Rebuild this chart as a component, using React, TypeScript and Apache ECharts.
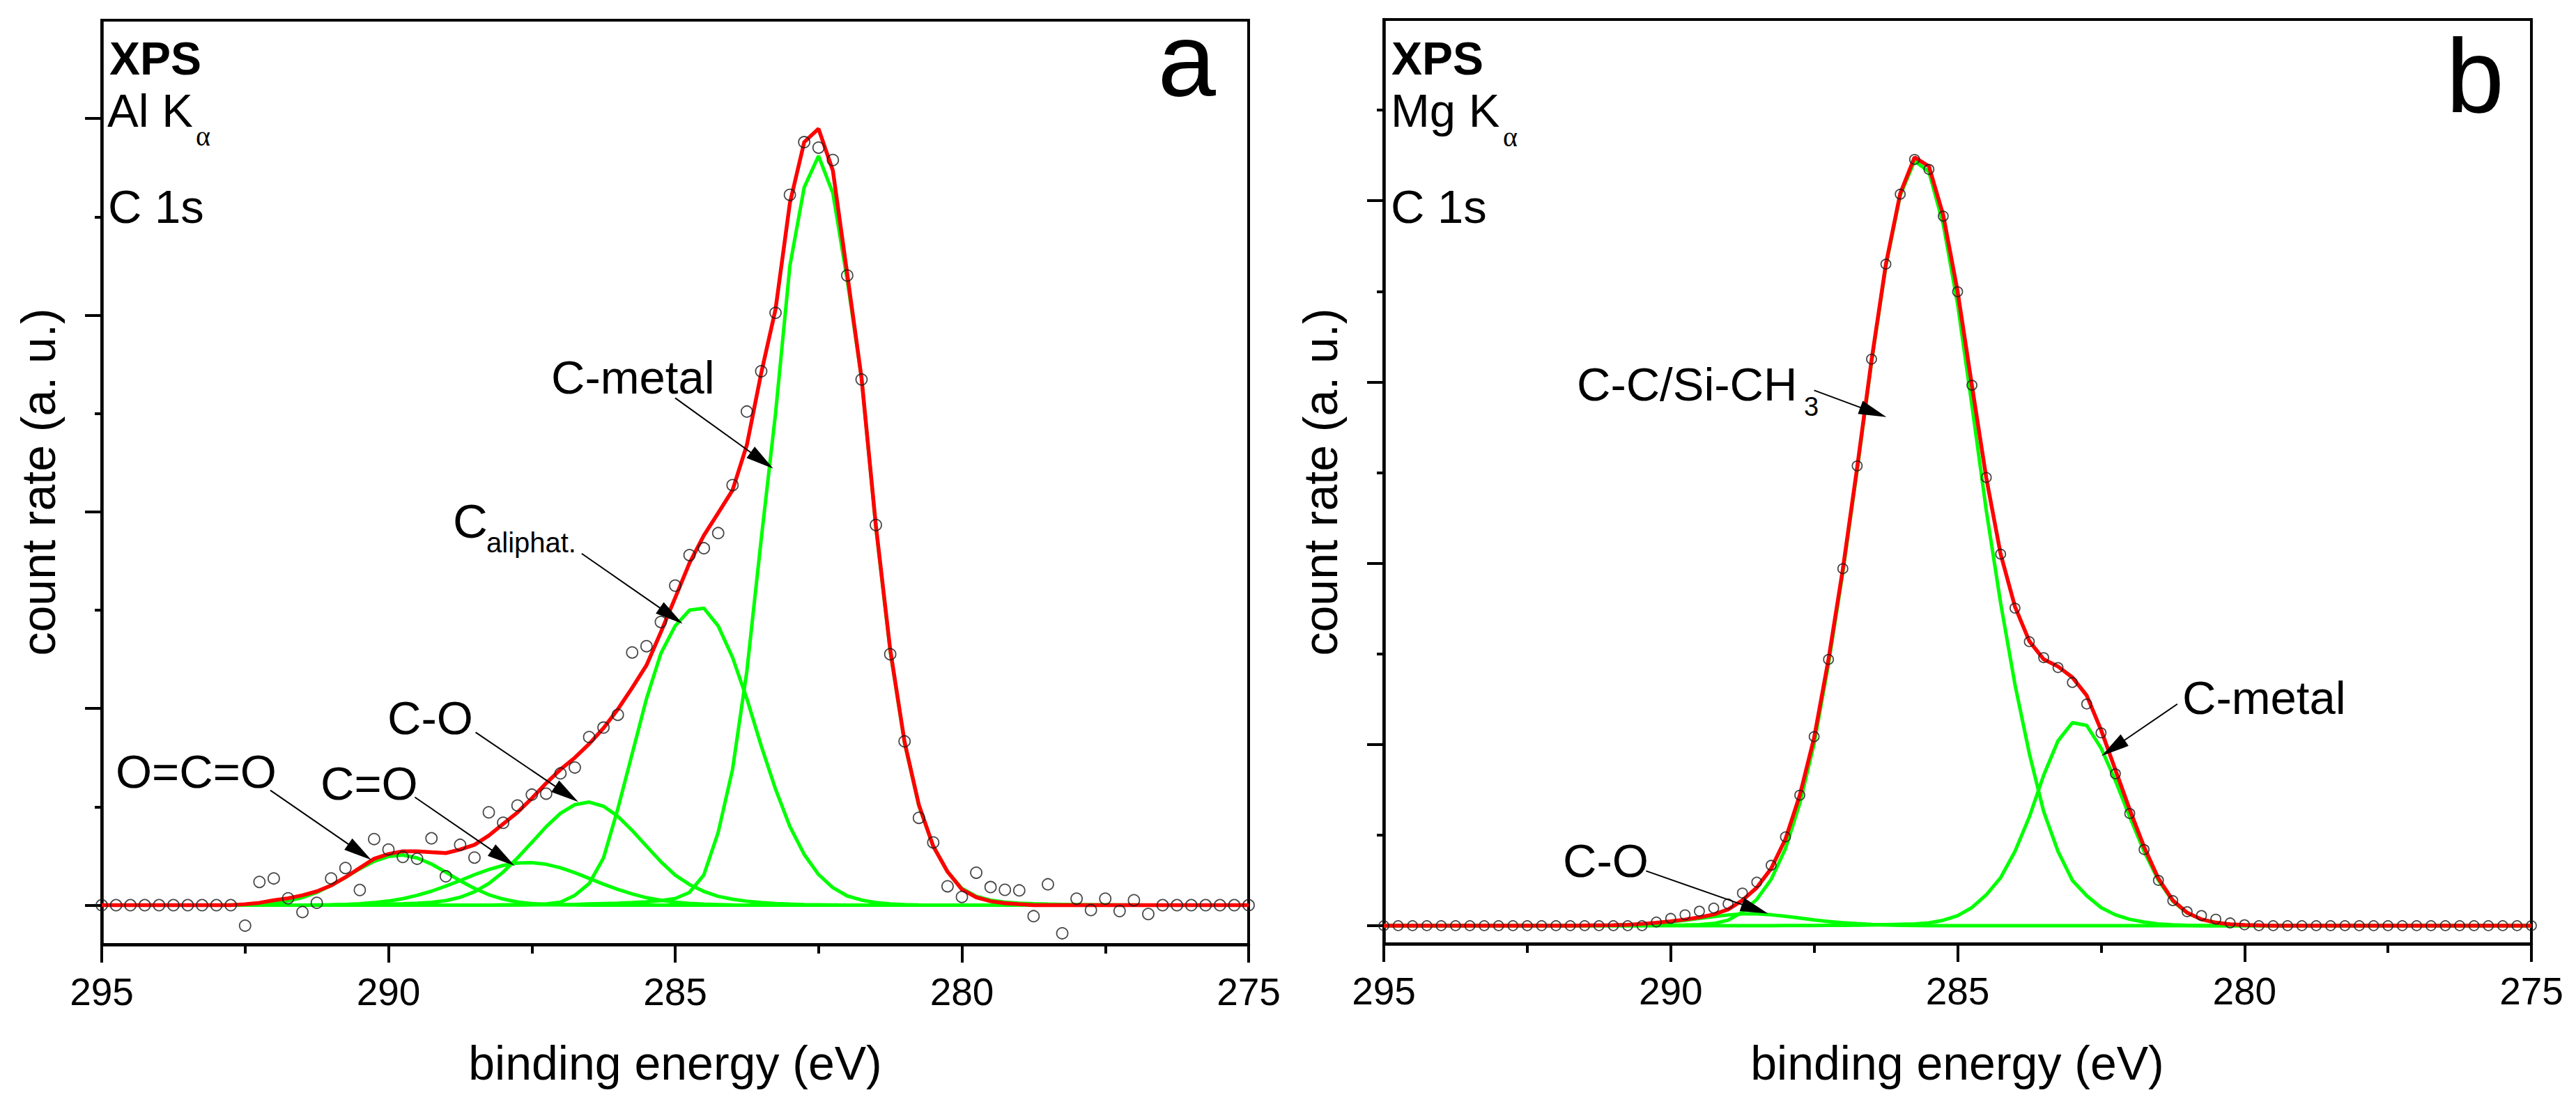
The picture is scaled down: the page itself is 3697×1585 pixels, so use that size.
import React, { useEffect, useRef } from 'react';
import * as echarts from 'echarts';

// binding energy grid (eV), same sampling for both panels
const energy = [
  295, 294.75, 294.5, 294.25, 294, 293.75, 293.5, 293.25, 293, 292.75,
  292.5, 292.25, 292, 291.75, 291.5, 291.25, 291, 290.75, 290.5, 290.25,
  290, 289.75, 289.5, 289.25, 289, 288.75, 288.5, 288.25, 288, 287.75,
  287.5, 287.25, 287, 286.75, 286.5, 286.25, 286, 285.75, 285.5, 285.25,
  285, 284.75, 284.5, 284.25, 284, 283.75, 283.5, 283.25, 283, 282.75,
  282.5, 282.25, 282, 281.75, 281.5, 281.25, 281, 280.75, 280.5, 280.25,
  280, 279.75, 279.5, 279.25, 279, 278.75, 278.5, 278.25, 278, 277.75,
  277.5, 277.25, 277, 276.75, 276.5, 276.25, 276, 275.75, 275.5, 275.25,
  275,
];

// ---- panel a : Al Ka ----
const measuredA = [
  0, 0, 0, 0, 0, 0, 0, 0, 0, 0,
  -0.104, 0.118, 0.136, 0.035, -0.035, 0.012, 0.136, 0.189, 0.077, 0.336,
  0.283, 0.245, 0.236, 0.34, 0.147, 0.307, 0.242, 0.472, 0.419, 0.507,
  0.562, 0.567, 0.67, 0.7, 0.855, 0.903, 0.968, 1.285, 1.317, 1.44,
  1.625, 1.78, 1.815, 1.892, 2.136, 2.51, 2.715, 3.012, 3.612, 3.88,
  3.852, 3.789, 3.202, 2.673, 1.933, 1.276, 0.833, 0.444, 0.319, 0.096,
  0.042, 0.165, 0.092, 0.078, 0.075, -0.056, 0.106, -0.143, 0.033, -0.025,
  0.033, -0.03, 0.025, -0.045, 0, 0, 0, 0, 0, 0,
  0,
];
const envelopeA = [
  0, 0, 0, 0, 0, 0, 0, 0, 0, 0,
  0.005, 0.012, 0.025, 0.035, 0.05, 0.07, 0.1, 0.142, 0.189, 0.236,
  0.26, 0.274, 0.274, 0.269, 0.265, 0.283, 0.307, 0.354, 0.413, 0.472,
  0.543, 0.62, 0.69, 0.75, 0.82, 0.9, 0.996, 1.105, 1.22, 1.388,
  1.563, 1.74, 1.88, 1.994, 2.11, 2.34, 2.705, 3.03, 3.57, 3.88,
  3.948, 3.735, 3.21, 2.68, 1.93, 1.3, 0.83, 0.51, 0.3, 0.17,
  0.08, 0.04, 0.02, 0.01, 0.005, 0, 0, 0, 0, 0,
  0, 0, 0, 0, 0, 0, 0, 0, 0, 0,
  0,
];
const ocoA = [
  0, 0, 0, 0, 0, 0, 0, 0, 0, 0.001,
  0.002, 0.005, 0.011, 0.021, 0.039, 0.065, 0.1, 0.141, 0.185, 0.223,
  0.248, 0.255, 0.24, 0.209, 0.168, 0.124, 0.085, 0.053, 0.031, 0.016,
  0.008, 0.004, 0.002, 0.001, 0, 0, 0, 0, 0, 0,
  0, 0, 0, 0, 0, 0, 0, 0, 0, 0,
  0, 0, 0, 0, 0, 0, 0, 0, 0, 0,
  0, 0, 0, 0, 0, 0, 0, 0, 0, 0,
  0, 0, 0, 0, 0, 0, 0, 0, 0, 0,
  0,
];
const cDoubleOA = [
  0, 0, 0, 0, 0, 0, 0, 0, 0, 0,
  0, 0, 0, 0, 0, 0.001, 0.002, 0.004, 0.007, 0.013,
  0.021, 0.033, 0.05, 0.071, 0.097, 0.125, 0.155, 0.181, 0.202, 0.214,
  0.216, 0.208, 0.19, 0.165, 0.136, 0.107, 0.08, 0.057, 0.038, 0.025,
  0.015, 0.009, 0.005, 0.003, 0.001, 0, 0, 0, 0, 0,
  0, 0, 0, 0, 0, 0, 0, 0, 0, 0,
  0, 0, 0, 0, 0, 0, 0, 0, 0, 0,
  0, 0, 0, 0, 0, 0, 0, 0, 0, 0,
  0,
];
const cSingleOA = [
  0, 0, 0, 0, 0, 0, 0, 0, 0, 0,
  0, 0, 0, 0, 0, 0, 0.001, 0.002, 0.003, 0.004,
  0.005, 0.007, 0.01, 0.014, 0.023, 0.04, 0.068, 0.11, 0.168, 0.24,
  0.319, 0.399, 0.467, 0.511, 0.524, 0.503, 0.452, 0.38, 0.3, 0.221,
  0.153, 0.105, 0.07, 0.045, 0.03, 0.02, 0.013, 0.008, 0.005, 0.003,
  0.002, 0.001, 0, 0, 0, 0, 0, 0, 0, 0,
  0, 0, 0, 0, 0, 0, 0, 0, 0, 0,
  0, 0, 0, 0, 0, 0, 0, 0, 0, 0,
  0,
];
const cAliphatA = [
  0, 0, 0, 0, 0, 0, 0, 0, 0, 0,
  0, 0, 0, 0, 0, 0, 0, 0, 0, 0,
  0, 0, 0, 0, 0, 0, 0, 0, 0.001, 0.002,
  0.003, 0.006, 0.015, 0.05, 0.11, 0.24, 0.49, 0.77, 1.05, 1.28,
  1.42, 1.5, 1.51, 1.42, 1.26, 1.05, 0.81, 0.59, 0.4, 0.258,
  0.156, 0.089, 0.047, 0.026, 0.013, 0.006, 0.003, 0.001, 0, 0,
  0, 0, 0, 0, 0, 0, 0, 0, 0, 0,
  0, 0, 0, 0, 0, 0, 0, 0, 0, 0,
  0,
];
const cMetalA = [
  0, 0, 0, 0, 0, 0, 0, 0, 0, 0,
  0, 0, 0, 0, 0, 0, 0, 0, 0, 0,
  0, 0, 0, 0, 0, 0, 0, 0, 0.001, 0.001,
  0.002, 0.002, 0.003, 0.004, 0.006, 0.008, 0.01, 0.013, 0.017, 0.023,
  0.034, 0.065, 0.154, 0.37, 0.69, 1.19, 1.86, 2.5, 3.25, 3.65,
  3.81, 3.62, 3.18, 2.68, 1.92, 1.29, 0.825, 0.505, 0.3, 0.17,
  0.085, 0.045, 0.025, 0.015, 0.01, 0.007, 0.005, 0.004, 0.003, 0.002,
  0.002, 0.001, 0.001, 0, 0, 0, 0, 0, 0, 0,
  0,
];

// ---- panel b : Mg Ka ----
const measuredB = [
  0, 0, 0, 0, 0, 0, 0, 0, 0, 0,
  0, 0, 0, 0, 0, 0, 0, 0, 0, 0.02,
  0.04, 0.06, 0.08, 0.097, 0.12, 0.18, 0.24, 0.333, 0.49, 0.72,
  1.043, 1.469, 1.97, 2.537, 3.126, 3.65, 4.036, 4.228, 4.173, 3.915,
  3.498, 2.982, 2.473, 2.05, 1.752, 1.567, 1.479, 1.424, 1.342, 1.223,
  1.064, 0.838, 0.619, 0.42, 0.25, 0.138, 0.077, 0.056, 0.036, 0.015,
  0.005, 0, 0, 0, 0, 0, 0, 0, 0, 0,
  0, 0, 0, 0, 0, 0, 0, 0, 0, 0,
  0,
];
const envelopeB = [
  0, 0, 0, 0, 0, 0, 0, 0, 0, 0,
  0, 0, 0, 0, 0.001, 0.002, 0.003, 0.005, 0.01, 0.016,
  0.024, 0.034, 0.046, 0.062, 0.09, 0.14, 0.21, 0.315, 0.478, 0.72,
  1.038, 1.47, 1.968, 2.53, 3.12, 3.65, 4.04, 4.24, 4.19, 3.92,
  3.5, 2.98, 2.47, 2.05, 1.76, 1.57, 1.47, 1.43, 1.37, 1.27,
  1.08, 0.86, 0.64, 0.435, 0.26, 0.14, 0.072, 0.035, 0.017, 0.008,
  0.004, 0.002, 0, 0, 0, 0, 0, 0, 0, 0,
  0, 0, 0, 0, 0, 0, 0, 0, 0, 0,
  0,
];
const cSingleOB = [
  0, 0, 0, 0, 0, 0, 0, 0, 0, 0,
  0, 0, 0, 0, 0.001, 0.002, 0.003, 0.005, 0.009, 0.014,
  0.021, 0.03, 0.04, 0.05, 0.059, 0.065, 0.065, 0.06, 0.052, 0.042,
  0.032, 0.023, 0.016, 0.011, 0.007, 0.004, 0.002, 0.001, 0, 0,
  0, 0, 0, 0, 0, 0, 0, 0, 0, 0,
  0, 0, 0, 0, 0, 0, 0, 0, 0, 0,
  0, 0, 0, 0, 0, 0, 0, 0, 0, 0,
  0, 0, 0, 0, 0, 0, 0, 0, 0, 0,
  0,
];
const cCSiB = [
  0, 0, 0, 0, 0, 0, 0, 0, 0, 0,
  0, 0, 0, 0, 0, 0, 0, 0, 0.001, 0.002,
  0.003, 0.004, 0.006, 0.012, 0.03, 0.075, 0.145, 0.255, 0.425, 0.675,
  1.005, 1.445, 1.95, 2.515, 3.11, 3.64, 4.03, 4.22, 4.16, 3.87,
  3.43, 2.87, 2.29, 1.78, 1.33, 0.95, 0.63, 0.41, 0.25, 0.165,
  0.1, 0.06, 0.035, 0.02, 0.01, 0.005, 0.002, 0, 0, 0,
  0, 0, 0, 0, 0, 0, 0, 0, 0, 0,
  0, 0, 0, 0, 0, 0, 0, 0, 0, 0,
  0,
];
const cMetalB = [
  0, 0, 0, 0, 0, 0, 0, 0, 0, 0,
  0, 0, 0, 0, 0, 0, 0, 0, 0, 0,
  0, 0, 0, 0, 0, 0, 0, 0, 0.001, 0.001,
  0.001, 0.002, 0.002, 0.003, 0.004, 0.006, 0.008, 0.01, 0.015, 0.03,
  0.055, 0.1, 0.17, 0.265, 0.41, 0.6, 0.83, 1.02, 1.12, 1.105,
  0.98, 0.8, 0.6, 0.41, 0.25, 0.135, 0.07, 0.035, 0.017, 0.008,
  0.004, 0.002, 0, 0, 0, 0, 0, 0, 0, 0,
  0, 0, 0, 0, 0, 0, 0, 0, 0, 0,
  0,
];

const xTickLabels = [295, 290, 285, 280, 275];
const yMajorTicks = [0, 1, 2, 3, 4];
const yMinorTicksA = [0.5, 1.5, 2.5, 3.5];
const yMinorTicksB = [0.5, 1.5, 2.5, 3.5, 4.5];

// annotation arrows in data units: [fromE, fromY, toE, toY]
const arrowsA = [
  [292.06, 0.584, 290.3, 0.23],
  [289.54, 0.549, 287.8, 0.2],
  [288.48, 0.879, 286.69, 0.525],
  [286.63, 1.788, 284.87, 1.431],
  [285.0, 2.579, 283.29, 2.22],
];
const arrowsB = [
  [287.5, 2.954, 286.24, 2.806],
  [290.43, 0.302, 288.3, 0.066],
  [281.17, 1.223, 282.49, 0.937],
];

const FONT = '"Liberation Sans", Arial, sans-serif';
const SERIF = '"Liberation Serif", "Times New Roman", serif';

const pairs = (vals: number[]) => energy.map((e, i) => [e, vals[i]]);

function xAxisFor(gridIndex: number) {
  return {
    type: 'value',
    gridIndex,
    position: 'bottom',
    min: 275,
    max: 295,
    interval: 5,
    inverse: true,
    axisLine: { show: true, onZero: false, lineStyle: { color: '#000', width: 4.5 } },
    axisTick: { show: true, length: 26, lineStyle: { color: '#000', width: 4 } },
    minorTick: { show: true, splitNumber: 2, length: 13, lineStyle: { color: '#000', width: 4 } },
    axisLabel: {
      show: true,
      color: '#000',
      fontSize: 55,
      fontFamily: FONT,
      margin: 40,
      formatter: (v: number) => (xTickLabels.includes(v) ? String(v) : ''),
    },
    splitLine: { show: false },
  };
}

function yAxisFor(gridIndex: number, min: number, max: number, ticks: number[], len: number, line: boolean) {
  return {
    type: 'value',
    gridIndex,
    position: 'left',
    offset: 0,
    min,
    max,
    axisLine: { show: line, onZero: false, lineStyle: { color: '#000', width: 4.5 } },
    axisTick: { show: true, length: len, customValues: ticks, lineStyle: { color: '#000', width: 4 } },
    axisLabel: { show: false },
    splitLine: { show: false },
  };
}

function peak(xi: number, yi: number, vals: number[]) {
  return {
    type: 'line',
    xAxisIndex: xi,
    yAxisIndex: yi,
    data: pairs(vals),
    showSymbol: false,
    symbol: 'none',
    silent: true,
    z: 2,
    lineStyle: { color: '#00ff00', width: 5 },
  };
}

function envelope(xi: number, yi: number, vals: number[]) {
  return {
    type: 'line',
    xAxisIndex: xi,
    yAxisIndex: yi,
    data: pairs(vals),
    showSymbol: false,
    symbol: 'none',
    silent: true,
    z: 3,
    lineStyle: { color: '#ff0000', width: 5.5 },
  };
}

function measured(xi: number, yi: number, vals: number[], size: number) {
  return {
    type: 'scatter',
    xAxisIndex: xi,
    yAxisIndex: yi,
    data: pairs(vals),
    symbol: 'circle',
    symbolSize: size,
    silent: true,
    z: 4,
    itemStyle: { color: 'rgba(255,255,255,0)', borderColor: '#1a1a1a', borderWidth: 1.8 },
  };
}

type Lbl = { text: string; x: number; y: number; size: number; bold?: boolean; serif?: boolean; align?: string; rotation?: number };

// text placement in page pixels (y is the vertical middle of the line)
const labels: Lbl[] = [
  { text: 'XPS', x: 157, y: 84, size: 66, bold: true },
  { text: 'Al K', x: 154, y: 158, size: 67 },
  { text: 'α', x: 281, y: 195, size: 40, serif: true },
  { text: 'C 1s', x: 155, y: 296, size: 67 },
  { text: 'a', x: 1745, y: 86, size: 150, align: 'right' },
  { text: 'O=C=O', x: 166, y: 1107, size: 67 },
  { text: 'C=O', x: 460, y: 1124, size: 67 },
  { text: 'C-O', x: 556, y: 1030, size: 67 },
  { text: 'C', x: 650, y: 748, size: 69 },
  { text: 'aliphat.', x: 698, y: 779, size: 40 },
  { text: 'C-metal', x: 791, y: 541, size: 67 },
  { text: 'count rate (a. u.)', x: 55, y: 692, size: 68, align: 'center', rotation: Math.PI / 2 },
  { text: 'binding energy (eV)', x: 969, y: 1526, size: 68, align: 'center' },

  { text: 'XPS', x: 1997, y: 84, size: 66, bold: true },
  { text: 'Mg K', x: 1996, y: 158, size: 67 },
  { text: 'α', x: 2157, y: 196, size: 40, serif: true },
  { text: 'C 1s', x: 1996, y: 296, size: 67 },
  { text: 'b', x: 3594, y: 109, size: 150, align: 'right' },
  { text: 'C-C/Si-CH', x: 2263, y: 551, size: 67 },
  { text: '3', x: 2589, y: 584, size: 38 },
  { text: 'C-O', x: 2243, y: 1235, size: 67 },
  { text: 'C-metal', x: 3132, y: 1001, size: 67 },
  { text: 'count rate (a. u.)', x: 1895, y: 692, size: 68, align: 'center', rotation: Math.PI / 2 },
  { text: 'binding energy (eV)', x: 2809, y: 1526, size: 68, align: 'center' },
];

function textEl(l: Lbl) {
  return {
    type: 'text',
    x: l.x,
    y: l.y,
    rotation: l.rotation || 0,
    silent: true,
    z: 100,
    style: {
      text: l.text,
      fill: '#000',
      fontSize: l.size,
      fontFamily: l.serif ? SERIF : FONT,
      fontWeight: l.bold ? 'bold' : 'normal',
      align: l.align || 'left',
      verticalAlign: 'middle',
    },
  };
}

export default function App() {
  const ref = useRef<HTMLDivElement>(null);

  useEffect(() => {
    if (!ref.current) return;
    const chart = echarts.init(ref.current, undefined, { renderer: 'svg' });

    const option: any = {
      animation: false,
      backgroundColor: '#fff',
      grid: [
        { left: 146, top: 29, width: 1646, height: 1327, show: true, borderColor: '#000', borderWidth: 4, backgroundColor: '#fff' },
        { left: 1986, top: 28, width: 1647, height: 1327, show: true, borderColor: '#000', borderWidth: 4, backgroundColor: '#fff' },
      ],
      xAxis: [xAxisFor(0), xAxisFor(1)],
      yAxis: [
        yAxisFor(0, -0.2, 4.5, yMajorTicks, 24, true),
        yAxisFor(0, -0.2, 4.5, yMinorTicksA, 10, false),
        yAxisFor(1, -0.1, 5, yMajorTicks, 24, true),
        yAxisFor(1, -0.1, 5, yMinorTicksB, 10, false),
      ],
      series: [
        peak(0, 0, ocoA),
        peak(0, 0, cDoubleOA),
        peak(0, 0, cSingleOA),
        peak(0, 0, cAliphatA),
        peak(0, 0, cMetalA),
        envelope(0, 0, envelopeA),
        measured(0, 0, measuredA, 16),

        peak(1, 2, cSingleOB),
        peak(1, 2, cCSiB),
        peak(1, 2, cMetalB),
        envelope(1, 2, envelopeB),
        measured(1, 2, measuredB, 14),
      ],
    };
    chart.setOption(option);

    // arrows: line plus filled head, placed through the axes
    const arrowEls: any[] = [];
    const addArrows = (list: number[][], xi: number, yi: number) => {
      list.forEach(([e1, v1, e2, v2]) => {
        const p1 = chart.convertToPixel({ xAxisIndex: xi, yAxisIndex: yi }, [e1, v1]) as number[];
        const p2 = chart.convertToPixel({ xAxisIndex: xi, yAxisIndex: yi }, [e2, v2]) as number[];
        const dx = p2[0] - p1[0];
        const dy = p2[1] - p1[1];
        const len = Math.hypot(dx, dy) || 1;
        const ux = dx / len;
        const uy = dy / len;
        const headL = 40;
        const headW = 10;
        const bx = p2[0] - ux * headL;
        const by = p2[1] - uy * headL;
        arrowEls.push({
          type: 'line',
          silent: true,
          z: 100,
          shape: { x1: p1[0], y1: p1[1], x2: bx + ux * 4, y2: by + uy * 4 },
          style: { stroke: '#000', lineWidth: 2 },
        });
        arrowEls.push({
          type: 'polygon',
          silent: true,
          z: 100,
          shape: {
            points: [
              [p2[0], p2[1]],
              [bx - uy * headW, by + ux * headW],
              [bx + uy * headW, by - ux * headW],
            ],
          },
          style: { fill: '#000' },
        });
      });
    };
    addArrows(arrowsA, 0, 0);
    addArrows(arrowsB, 1, 2);

    chart.setOption({ graphic: { elements: [...labels.map(textEl), ...arrowEls] } });

    return () => {
      chart.dispose();
    };
  }, []);

  return (
    <div
      ref={ref}
      style={{ position: 'absolute', left: 0, top: 0, width: 3697, height: 1585, background: '#fff' }}
    />
  );
}
